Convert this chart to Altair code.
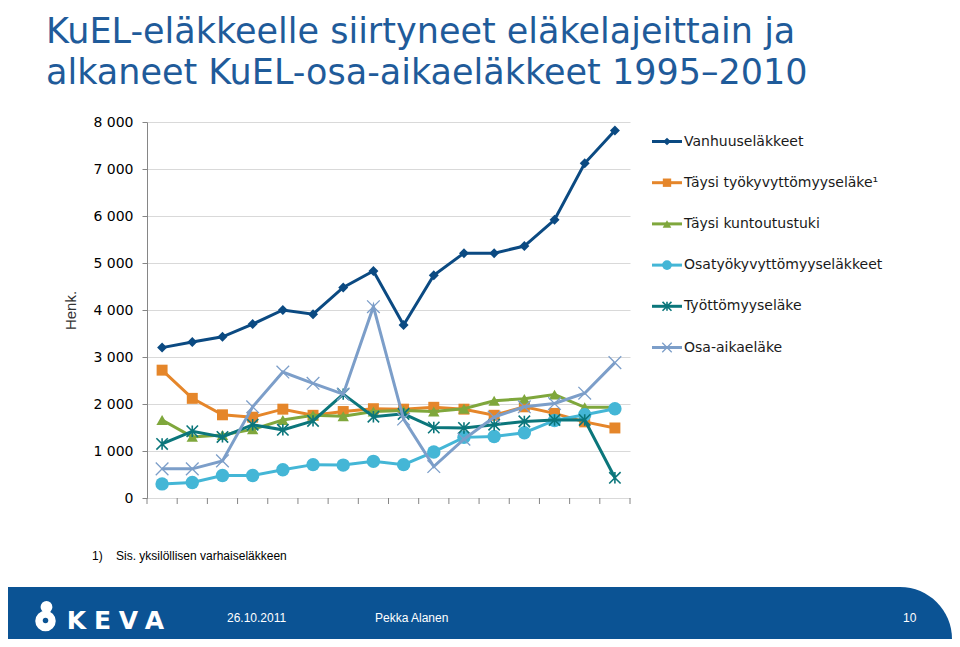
import altair as alt
import pandas as pd

# ---------------- data ----------------
years = list(range(1995, 2011))
series_names = [
    "Vanhuuseläkkeet",
    "Täysi työkyvyttömyyseläke",
    "Täysi kuntoutustuki",
    "Osatyökyvyttömyyseläkkeet",
    "Työttömyyseläke",
    "Osa-aikaeläke",
]
vanhuus = [3200, 3320, 3430, 3700, 4000, 3910, 4480, 4830, 3680, 4740, 5210, 5210, 5360, 5920, 7120, 7820]
tyokyvyttomyys = [2720, 2120, 1770, 1720, 1890, 1760, 1840, 1900, 1890, 1930, 1890, 1760, 1940, 1800, 1620, 1490]
kuntoutus = [1660, 1300, 1340, 1460, 1660, 1760, 1740, 1840, 1860, 1840, 1900, 2070, 2110, 2200, 1930, 1930]
osatyokyvyttomyys = [300, 330, 480, 480, 600, 710, 700, 780, 710, 980, 1290, 1310, 1390, 1650, 1770, 1900]
tyottomyys = [1150, 1420, 1300, 1560, 1450, 1640, 2210, 1730, 1790, 1500, 1490, 1560, 1630, 1660, 1660, 430]
osa_aika = [620, 620, 790, 1940, 2680, 2440, 2210, 4070, 1680, 670, 1250, 1720, 1940, 2010, 2230, 2880]
all_values = [vanhuus, tyokyvyttomyys, kuntoutus, osatyokyvyttomyys, tyottomyys, osa_aika]

y_ticks = [0, 1000, 2000, 3000, 4000, 5000, 6000, 7000, 8000]
x_labels = [1995, 2000, 2005, 2010]
title_lines = ["KuEL-eläkkeelle siirtyneet eläkelajeittain ja",
               "alkaneet KuEL-osa-aikaeläkkeet 1995\u20132010"]

# ---------------- styles ----------------
ASTERISK = "M-1,-1L1,1M-1,1L1,-1M0,-1L0,1"
XMARK = "M-1,-1L1,1M-1,1L1,-1"
styles = [
    dict(color="#0b4a82", shape="diamond", size=100, lsize=60, filled=True, sw=1),
    dict(color="#e5862a", shape="square", size=120, lsize=70, filled=True, sw=1),
    dict(color="#7fa73c", shape="triangle-up", size=130, lsize=75, filled=True, sw=1),
    dict(color="#44b6d6", shape="circle", size=180, lsize=95, filled=True, sw=1),
    dict(color="#0b767b", shape=ASTERISK, size=130, lsize=80, filled=False, sw=1.6),
    dict(color="#7c9ec9", shape=XMARK, size=160, lsize=90, filled=False, sw=1.3),
]

rows = []
for name, vals in zip(series_names, all_values):
    for yr, v in zip(years, vals):
        rows.append({"year": yr, "value": v, "series": name})
df = pd.DataFrame(rows)

FONT = "DejaVu Sans"
W, H = 483, 376

x_enc = alt.X("year:Q",
              scale=alt.Scale(domain=[years[0] - 0.5, years[-1] + 0.5], nice=False, zero=False),
              axis=alt.Axis(values=x_labels, format="d", title=None, ticks=False, grid=False,
                            domainColor="#868686", labelFont=FONT, labelFontSize=15,
                            labelColor="#000000", labelPadding=12, labelFlush=False))
y_enc = alt.Y("value:Q",
              scale=alt.Scale(domain=[0, 8000], nice=False),
              axis=alt.Axis(values=y_ticks, title="Henk.", grid=True, gridColor="#d9d9d9",
                            domainColor="#868686", tickColor="#868686", tickSize=5,
                            labelPadding=9, labelFont=FONT, labelFontSize=14,
                            labelColor="#000000",
                            labelExpr="replace(format(datum.value, ','), ',', ' ')",
                            titleFont="Liberation Sans", titleFontSize=15, titleFontWeight="normal",
                            titleColor="#333333", titleX=-69, titleY=188, titleAngle=270,
                            titleBaseline="bottom", titleAlign="center"))

layers = []

# x-axis tick marks at category boundaries
bounds = pd.DataFrame({"b": [y - 0.5 for y in years] + [years[-1] + 0.5]})
layers.append(alt.Chart(bounds).mark_rule(color="#868686", strokeWidth=1).encode(
    x=alt.X("b:Q", axis=None), y=alt.value(H), y2=alt.value(H + 6)))

# data series
for name, st in zip(series_names, styles):
    base = alt.Chart(df).transform_filter(alt.datum.series == name)
    layers.append(base.mark_line(color=st["color"], strokeWidth=3).encode(x=x_enc, y=y_enc))
    layers.append(base.mark_point(shape=st["shape"], size=st["size"], filled=st["filled"],
                                  color=st["color"], opacity=1, strokeWidth=st["sw"])
                  .encode(x=x_enc, y=y_enc))

# legend (built by hand: line + marker + text)
for i, (name, st) in enumerate(zip(series_names, styles)):
    ly = 19.5 + 41.2 * i
    label = name + ("\u00b9" if i == 1 else "")
    ld = pd.DataFrame({"t": [label]})
    layers.append(alt.Chart(ld).mark_rule(color=st["color"], strokeWidth=3).encode(
        x=alt.value(505), x2=alt.value(535), y=alt.value(ly)))
    layers.append(alt.Chart(ld).mark_point(shape=st["shape"], size=st["lsize"], filled=st["filled"],
                                           color=st["color"], opacity=1, strokeWidth=st["sw"])
                  .encode(x=alt.value(520), y=alt.value(ly)))
    layers.append(alt.Chart(ld).mark_text(align="left", baseline="middle", font=FONT, fontSize=14,
                                          color="#1a1a1a").encode(
        x=alt.value(537), y=alt.value(ly), text="t:N"))

# title
for j, line in enumerate(title_lines):
    layers.append(alt.Chart(pd.DataFrame({"t": [line]})).mark_text(
        align="left", baseline="alphabetic", font=FONT, fontSize=35, color="#1f5b9a").encode(
        x=alt.value(-101), y=alt.value(-79 + 41 * j), text="t:N"))

# footnote
layers.append(alt.Chart(pd.DataFrame({"t": ["1)"]})).mark_text(
    align="left", baseline="middle", font="Liberation Sans", fontSize=12, color="#000000").encode(
    x=alt.value(-55), y=alt.value(434), text="t:N"))
layers.append(alt.Chart(pd.DataFrame({"t": ["Sis. yksilöllisen varhaiseläkkeen"]})).mark_text(
    align="left", baseline="middle", font="Liberation Sans", fontSize=12, color="#000000").encode(
    x=alt.value(-31), y=alt.value(434), text="t:N"))

# footer bar
FOOT = "#0b5394"
one = pd.DataFrame({"t": [""]})
layers.append(alt.Chart(one).mark_rect(color=FOOT).encode(
    x=alt.value(-139), x2=alt.value(754), y=alt.value(465), y2=alt.value(517)))
layers.append(alt.Chart(one).mark_point(shape="M-1,1L-1,-1A2,2 0 0 1 1,1Z", size=2704, filled=True,
                                        color=FOOT, opacity=1, strokeWidth=0).encode(
    x=alt.value(779), y=alt.value(491)))

# logo
layers.append(alt.Chart(one).mark_point(shape="circle", size=140, filled=True, color="#ffffff",
                                        opacity=1).encode(x=alt.value(-100.5), y=alt.value(485)))
layers.append(alt.Chart(one).mark_point(shape="circle", size=420, filled=True, color="#ffffff",
                                        opacity=1).encode(x=alt.value(-101.5), y=alt.value(499)))
layers.append(alt.Chart(one).mark_point(shape="circle", size=30, filled=True, color=FOOT,
                                        opacity=1).encode(x=alt.value(-101.5), y=alt.value(498.5)))
for k, letter in enumerate("KEVA"):
    layers.append(alt.Chart(pd.DataFrame({"t": [letter]})).mark_text(
        align="center", baseline="middle", font=FONT, fontWeight="bold", fontSize=25,
        color="#ffffff").encode(x=alt.value(-70.5 + 26 * k), y=alt.value(499), text="t:N"))

# footer texts
for txt, fx in [("26.10.2011", 80), ("Pekka Alanen", 228), ("10", 756)]:
    layers.append(alt.Chart(pd.DataFrame({"t": [txt]})).mark_text(
        align="left", baseline="middle", font="Liberation Sans", fontSize=12,
        color="#ffffff").encode(x=alt.value(fx), y=alt.value(496), text="t:N"))

chart = alt.layer(*layers).properties(
    width=W, height=H,
    autosize=alt.AutoSizeParams(type="none"),
    padding={"left": 139, "top": 114, "right": 944 - 139 - W, "bottom": 631 - 114 - H},
    background="#ffffff",
).configure_view(stroke=None)

chart.save("out.html", embed_options={"renderer": "svg", "actions": False})
